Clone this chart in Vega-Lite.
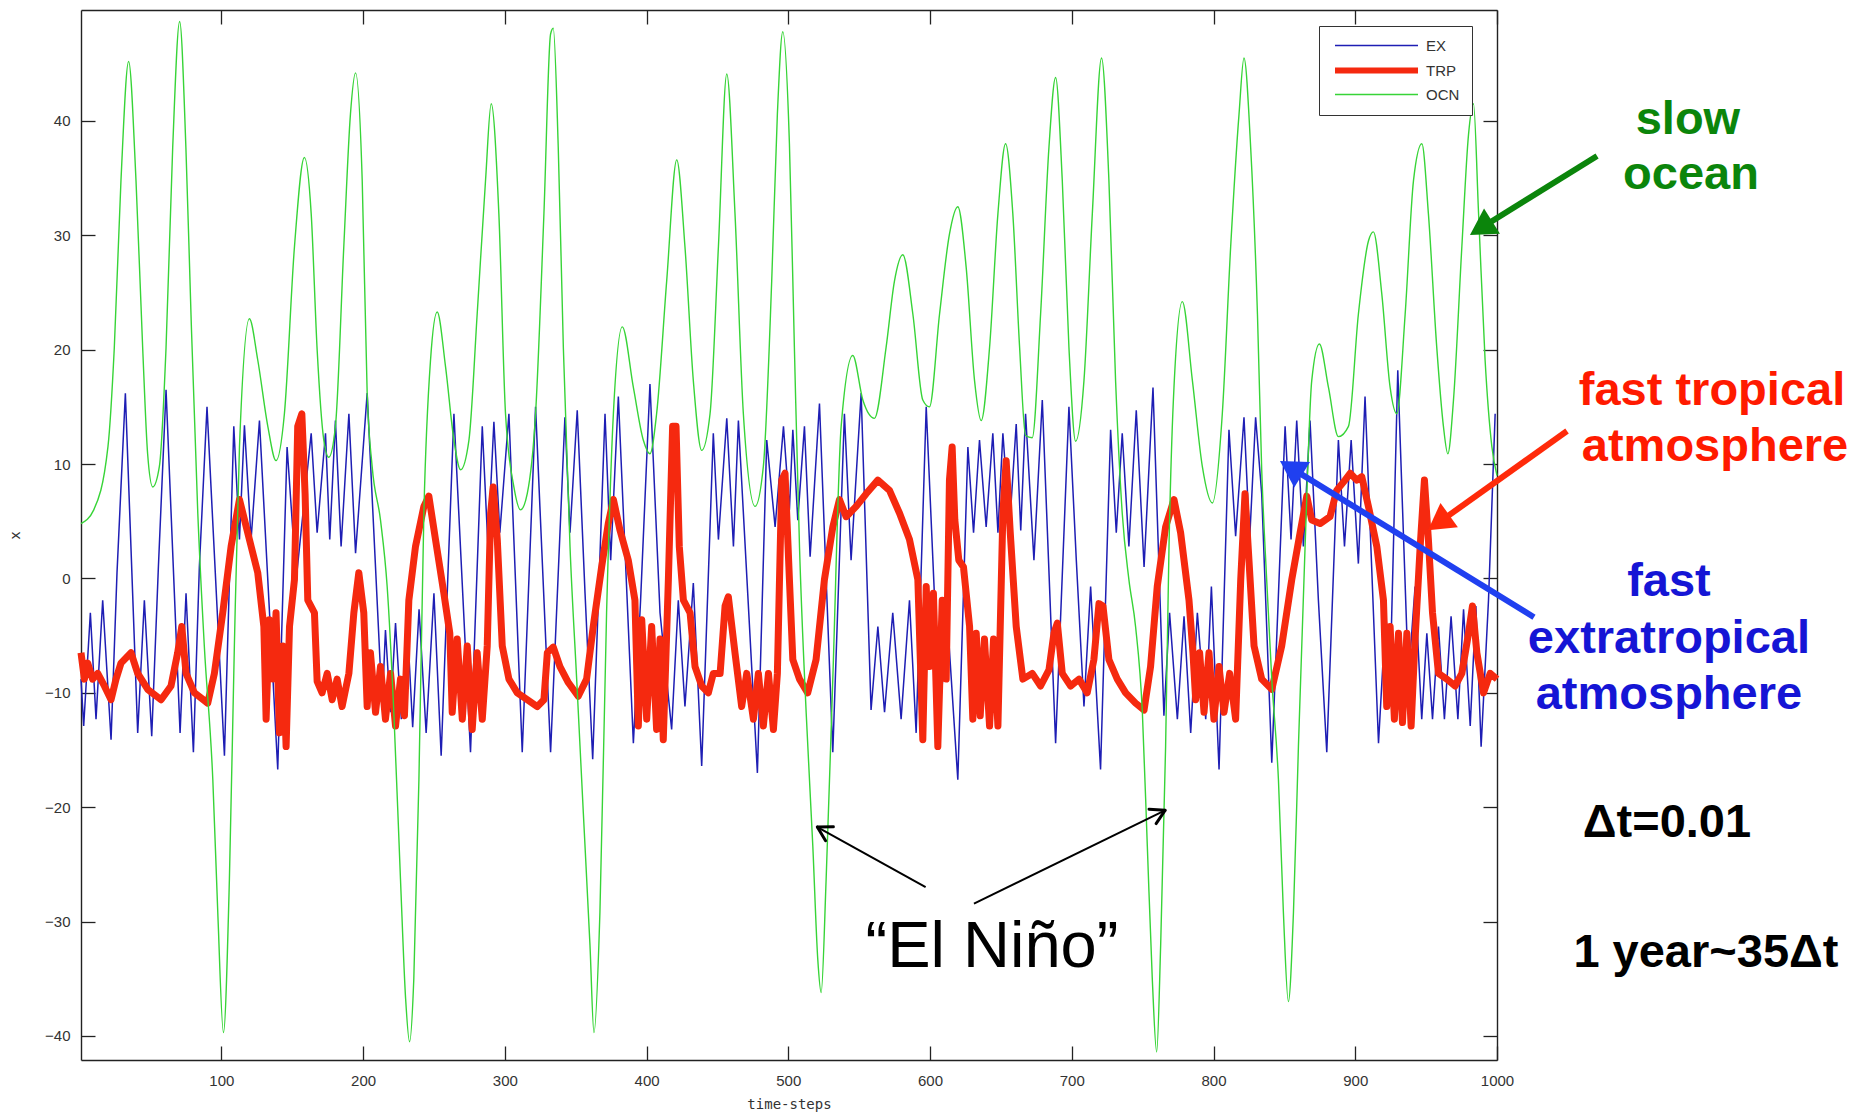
{
"$schema": "https://vega.github.io/schema/vega-lite/v6.json",
"width": 1416, "height": 1050,
"autosize": {"type": "none"},
"padding": {"left": 81, "top": 10, "right": 370, "bottom": 56},
"background": "white",
"config": {"view": {"stroke": null}, "font": "Liberation Sans"},
"datasets": {
"ocn": [{"t":1,"v":4.8},{"t":10,"v":6.0},{"t":20,"v":11.5},{"t":24.5,"v":20.2},{"t":29.2,"v":34.8},{"t":34.6,"v":45.2},{"t":39.8,"v":34.8},{"t":44.5,"v":20.2},{"t":48,"v":10.9},{"t":51.6,"v":8.0},{"t":56.3,"v":9.8},{"t":61,"v":20.2},{"t":65.7,"v":37.7},{"t":70.6,"v":48.7},{"t":75,"v":37.7},{"t":78.6,"v":23.1},{"t":83.4,"v":5.7},{"t":88,"v":-5.9},{"t":94,"v":-17.6},{"t":97.5,"v":-29.2},{"t":101.5,"v":-39.7},{"t":105.7,"v":-26.3},{"t":109.2,"v":-5.9},{"t":112.8,"v":11.5},{"t":119.8,"v":22.7},{"t":125.7,"v":19.1},{"t":132.8,"v":13.3},{"t":138.6,"v":10.3},{"t":144.5,"v":14.4},{"t":151.6,"v":29.0},{"t":158.6,"v":36.8},{"t":163.4,"v":31.9},{"t":167.6,"v":20.0},{"t":172.3,"v":12.1},{"t":175.8,"v":10.6},{"t":180.5,"v":13.3},{"t":186.4,"v":29.0},{"t":191.1,"v":40.6},{"t":194.7,"v":44.2},{"t":199.4,"v":34.8},{"t":202.9,"v":16.2},{"t":206.4,"v":9.8},{"t":212.3,"v":5.1},{"t":217,"v":-0.7},{"t":221.7,"v":-11.7},{"t":226.4,"v":-26.3},{"t":230,"v":-36.7},{"t":232.8,"v":-40.5},{"t":235.8,"v":-35.0},{"t":239.4,"v":-17.6},{"t":242.9,"v":5.7},{"t":247.6,"v":19.1},{"t":252.3,"v":23.3},{"t":258.2,"v":18.5},{"t":264.1,"v":12.1},{"t":268.8,"v":9.5},{"t":274.7,"v":12.1},{"t":280.5,"v":23.1},{"t":286.4,"v":34.8},{"t":290.4,"v":41.5},{"t":295.8,"v":31.9},{"t":300.5,"v":14.4},{"t":306.4,"v":8.0},{"t":311.1,"v":6.0},{"t":315.8,"v":7.4},{"t":321.7,"v":14.4},{"t":327.6,"v":31.9},{"t":332.3,"v":47.6},{"t":334.2,"v":48.1},{"t":337.7,"v":37.7},{"t":341.3,"v":20.2},{"t":346,"v":2.8},{"t":350.7,"v":-8.8},{"t":355.4,"v":-20.5},{"t":360.1,"v":-32.1},{"t":362.9,"v":-39.7},{"t":367.1,"v":-29.2},{"t":371.8,"v":-3.0},{"t":376.6,"v":14.4},{"t":382.9,"v":22.0},{"t":390.7,"v":16.7},{"t":397.7,"v":12.1},{"t":402.4,"v":10.9},{"t":407.1,"v":14.4},{"t":414.2,"v":26.0},{"t":421.3,"v":36.6},{"t":427.1,"v":29.0},{"t":433,"v":17.3},{"t":438.9,"v":11.2},{"t":444.8,"v":14.4},{"t":450.7,"v":29.0},{"t":456.6,"v":44.1},{"t":462.4,"v":31.9},{"t":468.3,"v":14.4},{"t":476.6,"v":6.3},{"t":482.4,"v":9.8},{"t":488.3,"v":26.0},{"t":492.3,"v":40.6},{"t":496.1,"v":47.8},{"t":500.8,"v":38.0},{"t":504.3,"v":20.2},{"t":507.9,"v":2.8},{"t":512.6,"v":-11.7},{"t":517.3,"v":-23.4},{"t":520.8,"v":-33.3},{"t":523.2,"v":-36.2},{"t":526.7,"v":-26.3},{"t":531.4,"v":-8.8},{"t":537.3,"v":13.3},{"t":545.5,"v":19.5},{"t":552.6,"v":15.6},{"t":560.8,"v":14.0},{"t":569,"v":20.2},{"t":574.9,"v":26.0},{"t":580.8,"v":28.3},{"t":587.9,"v":23.1},{"t":594.9,"v":15.6},{"t":599.6,"v":15.0},{"t":606.7,"v":23.1},{"t":613.7,"v":30.1},{"t":619.6,"v":32.5},{"t":625.5,"v":27.2},{"t":631.4,"v":17.3},{"t":636.1,"v":13.8},{"t":642,"v":20.2},{"t":647.9,"v":31.9},{"t":653.3,"v":38.0},{"t":658.4,"v":31.9},{"t":663.2,"v":20.2},{"t":667.4,"v":12.5},{"t":672.1,"v":12.3},{"t":678,"v":23.1},{"t":683.9,"v":37.7},{"t":688.6,"v":43.8},{"t":693.3,"v":34.8},{"t":698,"v":20.2},{"t":702.7,"v":12.0},{"t":708.6,"v":17.3},{"t":714.5,"v":31.9},{"t":721,"v":45.5},{"t":726.2,"v":34.8},{"t":730.9,"v":17.3},{"t":735.6,"v":5.7},{"t":740.3,"v":-0.1},{"t":745,"v":-4.2},{"t":749.8,"v":-11.7},{"t":753.3,"v":-23.4},{"t":756.8,"v":-35.0},{"t":759.9,"v":-41.4},{"t":762.7,"v":-32.1},{"t":766.2,"v":-14.7},{"t":768.6,"v":2.8},{"t":772.1,"v":16.7},{"t":778,"v":24.2},{"t":785.1,"v":17.3},{"t":792.1,"v":9.8},{"t":799.2,"v":6.6},{"t":806.2,"v":14.4},{"t":812.1,"v":29.0},{"t":818,"v":40.6},{"t":821.5,"v":45.5},{"t":826.2,"v":37.7},{"t":831,"v":23.1},{"t":834,"v":9.5},{"t":837.5,"v":-0.1},{"t":841.1,"v":-8.8},{"t":845.8,"v":-17.6},{"t":849.3,"v":-29.2},{"t":852.8,"v":-37.0},{"t":856.4,"v":-29.2},{"t":859.9,"v":-14.7},{"t":864.6,"v":2.8},{"t":869.3,"v":17.3},{"t":874.7,"v":20.5},{"t":881.1,"v":16.7},{"t":888.1,"v":12.4},{"t":895.2,"v":13.3},{"t":902.2,"v":23.1},{"t":909.3,"v":29.5},{"t":912.8,"v":30.3},{"t":918.7,"v":24.9},{"t":924.6,"v":16.7},{"t":929.3,"v":14.4},{"t":935.2,"v":23.1},{"t":941.1,"v":34.8},{"t":947,"v":38.0},{"t":951.6,"v":31.9},{"t":957.5,"v":20.2},{"t":962.2,"v":13.3},{"t":965.3,"v":10.9},{"t":969.3,"v":15.6},{"t":975.2,"v":29.0},{"t":979.9,"v":38.8},{"t":983.4,"v":41.5},{"t":987,"v":31.9},{"t":991.6,"v":19.1},{"t":996.4,"v":11.5},{"t":1000,"v":9.0}],
"ex": [{"t":1,"v":-8.8},{"t":2.9,"v":-12.9},{"t":7.6,"v":-3.0},{"t":11.6,"v":-12.3},{"t":16.3,"v":-1.9},{"t":22.2,"v":-14.1},{"t":26.4,"v":0.5},{"t":32.3,"v":16.2},{"t":41,"v":-13.5},{"t":45.7,"v":-1.9},{"t":50.9,"v":-13.8},{"t":55.6,"v":1.0},{"t":61,"v":16.5},{"t":70.9,"v":-13.5},{"t":75.1,"v":-1.3},{"t":80.3,"v":-15.2},{"t":84.5,"v":1.0},{"t":89.9,"v":15.0},{"t":102.2,"v":-15.5},{"t":108.8,"v":13.3},{"t":112.8,"v":3.4},{"t":116.3,"v":13.4},{"t":121,"v":3.4},{"t":126.9,"v":13.8},{"t":139.8,"v":-16.7},{"t":146.4,"v":11.5},{"t":152.8,"v":-0.1},{"t":163.4,"v":12.7},{"t":167.6,"v":4.0},{"t":173.5,"v":12.7},{"t":176.5,"v":3.4},{"t":180.5,"v":13.8},{"t":184.5,"v":2.8},{"t":190,"v":14.4},{"t":194.7,"v":2.2},{"t":202.9,"v":16.2},{"t":213.5,"v":-11.2},{"t":215.8,"v":-4.5},{"t":219.4,"v":-11.7},{"t":222.9,"v":-3.9},{"t":227,"v":-12.3},{"t":231,"v":-3.5},{"t":235,"v":-13.0},{"t":239.5,"v":-2.7},{"t":244.5,"v":-13.5},{"t":250,"v":-1.3},{"t":255.1,"v":-15.5},{"t":264.1,"v":14.4},{"t":275.8,"v":-15.2},{"t":284.1,"v":13.3},{"t":288.1,"v":2.8},{"t":292.3,"v":13.7},{"t":296.5,"v":4.0},{"t":302.9,"v":14.4},{"t":312.3,"v":-15.2},{"t":321.7,"v":15.0},{"t":332.3,"v":-15.2},{"t":342.4,"v":14.1},{"t":346,"v":4.0},{"t":351.1,"v":14.7},{"t":356.6,"v":-1.3},{"t":362,"v":-15.8},{"t":370.7,"v":14.4},{"t":374.7,"v":1.6},{"t":380.1,"v":15.9},{"t":390.7,"v":-14.4},{"t":395.8,"v":-1.9},{"t":402.4,"v":17.0},{"t":409.5,"v":-3.0},{"t":417.7,"v":-13.2},{"t":422.4,"v":-1.9},{"t":427.1,"v":-11.2},{"t":433,"v":-0.4},{"t":438.9,"v":-16.4},{"t":447.1,"v":12.7},{"t":450.7,"v":3.4},{"t":456.6,"v":14.0},{"t":461.3,"v":2.8},{"t":464.8,"v":13.8},{"t":478.2,"v":-17.0},{"t":484.8,"v":12.1},{"t":490.7,"v":4.5},{"t":496.6,"v":13.3},{"t":500.8,"v":6.0},{"t":503.2,"v":13.0},{"t":506.7,"v":5.1},{"t":511.4,"v":13.3},{"t":515.4,"v":1.9},{"t":522,"v":15.3},{"t":531.4,"v":-15.2},{"t":539.6,"v":14.4},{"t":544.3,"v":1.6},{"t":551.4,"v":16.2},{"t":558.4,"v":-11.5},{"t":563.2,"v":-4.2},{"t":567.9,"v":-11.7},{"t":573.7,"v":-3.0},{"t":579.6,"v":-12.3},{"t":585.5,"v":-1.9},{"t":590.2,"v":-13.5},{"t":597.3,"v":15.0},{"t":606.7,"v":-11.7},{"t":612.6,"v":-4.2},{"t":619.6,"v":-17.6},{"t":626.7,"v":11.5},{"t":630.7,"v":4.0},{"t":634.9,"v":12.1},{"t":639.6,"v":4.5},{"t":644.3,"v":12.7},{"t":647.9,"v":4.0},{"t":651.4,"v":12.7},{"t":656.1,"v":4.5},{"t":660.8,"v":13.5},{"t":664,"v":4.2},{"t":667.4,"v":14.4},{"t":673.3,"v":1.6},{"t":679.2,"v":15.6},{"t":688.6,"v":-14.4},{"t":698,"v":15.0},{"t":703.2,"v":1.6},{"t":708.6,"v":-11.2},{"t":713.3,"v":-0.7},{"t":720.3,"v":-16.7},{"t":727.4,"v":13.0},{"t":731.4,"v":4.0},{"t":735.6,"v":12.7},{"t":740.3,"v":2.8},{"t":745.5,"v":14.7},{"t":751,"v":1.0},{"t":757.3,"v":16.7},{"t":765,"v":-12.0},{"t":769,"v":-3.0},{"t":774.5,"v":-12.3},{"t":779.2,"v":-3.3},{"t":783.9,"v":-13.5},{"t":788.6,"v":-3.0},{"t":794.5,"v":-12.3},{"t":798.5,"v":-0.7},{"t":803.9,"v":-16.7},{"t":810.9,"v":13.0},{"t":815.6,"v":3.7},{"t":821.5,"v":14.1},{"t":825.5,"v":3.4},{"t":829.7,"v":14.1},{"t":834,"v":7.4},{"t":841.1,"v":-16.1},{"t":850.5,"v":13.3},{"t":854.7,"v":3.4},{"t":858.7,"v":13.8},{"t":863.4,"v":2.8},{"t":868.1,"v":13.8},{"t":874,"v":-1.9},{"t":879.9,"v":-15.2},{"t":888.1,"v":12.1},{"t":892.4,"v":2.8},{"t":897.1,"v":12.1},{"t":902.2,"v":1.3},{"t":906.9,"v":15.9},{"t":916.4,"v":-14.4},{"t":921.5,"v":-3.0},{"t":924.6,"v":-8.8},{"t":930,"v":18.2},{"t":937.5,"v":-8.8},{"t":942.2,"v":-0.7},{"t":946.9,"v":-12.3},{"t":950.5,"v":-4.8},{"t":954.5,"v":-12.3},{"t":958.7,"v":-4.2},{"t":962.9,"v":-12.3},{"t":967.6,"v":-3.3},{"t":972.4,"v":-12.3},{"t":976.4,"v":-2.7},{"t":981.1,"v":-12.9},{"t":985.1,"v":-2.4},{"t":988.8,"v":-14.7},{"t":994,"v":-1.9},{"t":998.7,"v":14.4}],
"trp": [{"t":1,"v":-6.5},{"t":3.4,"v":-8.8},{"t":5.7,"v":-7.4},{"t":9.2,"v":-8.8},{"t":12.8,"v":-8.3},{"t":17.5,"v":-9.4},{"t":22.2,"v":-10.6},{"t":25.7,"v":-8.8},{"t":29.2,"v":-7.4},{"t":36.3,"v":-6.5},{"t":41,"v":-8.3},{"t":48.1,"v":-9.7},{"t":57.5,"v":-10.6},{"t":64.5,"v":-9.4},{"t":69.2,"v":-6.5},{"t":72.1,"v":-4.2},{"t":75.1,"v":-8.3},{"t":81,"v":-10.0},{"t":90.4,"v":-10.9},{"t":95.1,"v":-8.3},{"t":101,"v":-3.0},{"t":106.9,"v":2.8},{"t":112.8,"v":6.9},{"t":118.6,"v":4.0},{"t":125.7,"v":0.5},{"t":130,"v":-4.2},{"t":131.6,"v":-12.3},{"t":133.9,"v":-3.6},{"t":136.3,"v":-8.8},{"t":138.6,"v":-3.0},{"t":141,"v":-13.5},{"t":143.4,"v":-5.9},{"t":145.7,"v":-14.7},{"t":148.1,"v":-4.2},{"t":151.6,"v":-0.1},{"t":153.9,"v":13.3},{"t":156.8,"v":14.4},{"t":159.1,"v":7.4},{"t":161,"v":-1.9},{"t":165.7,"v":-3.0},{"t":167.6,"v":-9.0},{"t":171.1,"v":-10.0},{"t":174.7,"v":-8.3},{"t":178.2,"v":-10.6},{"t":181.7,"v":-8.8},{"t":185.2,"v":-11.2},{"t":190,"v":-8.3},{"t":193.5,"v":-3.0},{"t":197,"v":0.5},{"t":200.5,"v":-3.0},{"t":202.9,"v":-11.2},{"t":205.2,"v":-6.5},{"t":208.8,"v":-11.7},{"t":212.3,"v":-7.7},{"t":215.8,"v":-12.3},{"t":219.4,"v":-8.3},{"t":222.9,"v":-12.9},{"t":226.4,"v":-8.8},{"t":229.2,"v":-12.0},{"t":232.3,"v":-1.9},{"t":237,"v":2.8},{"t":242.9,"v":6.3},{"t":246.4,"v":7.2},{"t":251.1,"v":3.4},{"t":257,"v":-1.3},{"t":261.2,"v":-4.8},{"t":262.9,"v":-11.7},{"t":266.4,"v":-5.3},{"t":270,"v":-12.3},{"t":273.5,"v":-5.9},{"t":277,"v":-13.2},{"t":280.5,"v":-6.5},{"t":284.1,"v":-12.3},{"t":287.6,"v":-5.9},{"t":290,"v":5.7},{"t":291.8,"v":8.0},{"t":294.7,"v":3.4},{"t":298.2,"v":-5.9},{"t":302.9,"v":-8.8},{"t":308.8,"v":-10.0},{"t":315.8,"v":-10.6},{"t":322.9,"v":-11.2},{"t":327.6,"v":-10.6},{"t":330,"v":-6.5},{"t":334.2,"v":-6.0},{"t":338.9,"v":-7.7},{"t":344.8,"v":-9.1},{"t":351.8,"v":-10.3},{"t":357.7,"v":-8.8},{"t":362.4,"v":-4.2},{"t":368.3,"v":1.0},{"t":373,"v":4.8},{"t":376.6,"v":6.9},{"t":381.3,"v":4.2},{"t":387.1,"v":1.6},{"t":391.8,"v":-1.9},{"t":394.2,"v":-12.9},{"t":396.6,"v":-3.6},{"t":400.1,"v":-12.3},{"t":403.6,"v":-4.2},{"t":407.1,"v":-13.2},{"t":409.5,"v":-5.3},{"t":411.8,"v":-14.1},{"t":415.4,"v":-0.1},{"t":418.4,"v":13.3},{"t":420.8,"v":13.3},{"t":423.1,"v":2.8},{"t":426,"v":-1.9},{"t":430.7,"v":-3.0},{"t":434.2,"v":-7.7},{"t":438.9,"v":-9.4},{"t":443.6,"v":-10.0},{"t":447.1,"v":-8.3},{"t":451.9,"v":-8.3},{"t":455.4,"v":-2.4},{"t":457.7,"v":-1.6},{"t":462.4,"v":-6.5},{"t":467.1,"v":-11.2},{"t":470.7,"v":-8.3},{"t":475.4,"v":-12.3},{"t":478.9,"v":-8.3},{"t":482.4,"v":-12.9},{"t":486,"v":-8.3},{"t":489.5,"v":-13.2},{"t":492.3,"v":-8.3},{"t":495.4,"v":8.6},{"t":497.7,"v":9.2},{"t":500.8,"v":-0.1},{"t":503.2,"v":-7.1},{"t":507.9,"v":-8.8},{"t":513.7,"v":-10.0},{"t":519.6,"v":-7.1},{"t":525.5,"v":-0.1},{"t":531.4,"v":4.5},{"t":536.1,"v":6.9},{"t":540.8,"v":5.4},{"t":547.9,"v":6.3},{"t":554.9,"v":7.4},{"t":563.2,"v":8.6},{"t":571.4,"v":7.7},{"t":578.5,"v":5.7},{"t":585.5,"v":3.4},{"t":591.4,"v":-0.1},{"t":594.9,"v":-14.1},{"t":597.3,"v":-0.7},{"t":599.6,"v":-7.7},{"t":602.4,"v":-1.3},{"t":605.5,"v":-14.7},{"t":608.6,"v":-1.9},{"t":611.4,"v":-8.8},{"t":613.7,"v":8.6},{"t":615.6,"v":11.5},{"t":617.5,"v":5.1},{"t":620.3,"v":1.6},{"t":623.6,"v":1.0},{"t":627.9,"v":-4.2},{"t":630.2,"v":-12.3},{"t":632.6,"v":-4.8},{"t":635.4,"v":-12.0},{"t":638.4,"v":-5.3},{"t":642,"v":-12.9},{"t":644.8,"v":-5.3},{"t":647.9,"v":-12.9},{"t":651.4,"v":5.7},{"t":653.7,"v":10.3},{"t":656.6,"v":4.0},{"t":660.8,"v":-4.2},{"t":665.5,"v":-8.8},{"t":672.1,"v":-8.3},{"t":678,"v":-9.4},{"t":683.9,"v":-8.0},{"t":687.4,"v":-4.8},{"t":689.8,"v":-3.9},{"t":693.3,"v":-8.3},{"t":699.2,"v":-9.4},{"t":705.1,"v":-8.8},{"t":710.9,"v":-10.0},{"t":715.6,"v":-7.1},{"t":719.2,"v":-2.2},{"t":722,"v":-2.4},{"t":726.2,"v":-7.1},{"t":732.1,"v":-8.8},{"t":738,"v":-10.0},{"t":745,"v":-10.9},{"t":751,"v":-11.5},{"t":755.6,"v":-7.7},{"t":760.3,"v":-0.7},{"t":766.2,"v":4.5},{"t":772.1,"v":6.9},{"t":776.8,"v":4.0},{"t":782.7,"v":-1.9},{"t":785.5,"v":-6.5},{"t":787.4,"v":-10.6},{"t":790.2,"v":-6.5},{"t":793.3,"v":-11.7},{"t":796.8,"v":-6.5},{"t":800.3,"v":-12.3},{"t":803.9,"v":-7.7},{"t":807.4,"v":-11.7},{"t":811.4,"v":-8.3},{"t":815.6,"v":-12.3},{"t":819.2,"v":-0.1},{"t":822.2,"v":7.4},{"t":825,"v":1.6},{"t":828.6,"v":-5.9},{"t":834,"v":-8.8},{"t":841.1,"v":-9.7},{"t":848.1,"v":-5.9},{"t":855.2,"v":-0.1},{"t":861.1,"v":4.0},{"t":865.8,"v":7.2},{"t":869.3,"v":5.1},{"t":875.2,"v":4.8},{"t":882.2,"v":5.4},{"t":886.9,"v":7.7},{"t":892.8,"v":8.6},{"t":896.4,"v":9.2},{"t":901.1,"v":8.6},{"t":904.6,"v":8.9},{"t":909.3,"v":6.3},{"t":915.2,"v":2.8},{"t":919.9,"v":-1.9},{"t":922.2,"v":-11.2},{"t":924.6,"v":-4.2},{"t":927.6,"v":-12.3},{"t":930.5,"v":-4.8},{"t":933.3,"v":-12.6},{"t":936.4,"v":-4.8},{"t":939.4,"v":-12.9},{"t":942.2,"v":-5.3},{"t":945.8,"v":2.8},{"t":948.8,"v":8.6},{"t":951.6,"v":3.4},{"t":954.5,"v":-3.0},{"t":958.7,"v":-8.3},{"t":964.6,"v":-8.8},{"t":970.5,"v":-9.4},{"t":975.2,"v":-8.3},{"t":979.9,"v":-4.8},{"t":982.7,"v":-2.4},{"t":985.8,"v":-6.5},{"t":990.5,"v":-10.0},{"t":995.2,"v":-8.3},{"t":1000,"v":-8.8}]
},
"layer": [
{"data": {"name": "ex"},
 "mark": {"type": "line", "strokeWidth": 1.5},
 "encoding": {
  "x": {"field": "t", "type": "quantitative", "scale": {"domain": [1, 1000], "nice": false, "zero": false},
   "axis": {"orient": "bottom", "values": [100,200,300,400,500,600,700,800,900,1000], "format": "d", "title": "time-steps", "grid": false, "tickSize": -14, "labelPadding": 27, "labelFlush": false, "labelOverlap": false, "domainColor": "#222", "tickColor": "#222", "domainWidth": 1.4, "tickWidth": 1.3, "labelFont": "Liberation Sans", "labelFontSize": 15, "labelColor": "#333", "titleFont": "DejaVu Sans Mono", "titleFontSize": 14, "titleFontWeight": "normal", "titleColor": "#333", "titlePadding": 9}},
  "y": {"field": "v", "type": "quantitative", "scale": {"domain": [-42.1, 49.7], "nice": false, "zero": false},
   "axis": {"orient": "left", "values": [-40,-30,-20,-10,0,10,20,30,40], "format": "d", "title": "x", "grid": false, "tickSize": -14, "labelPadding": 25, "labelFlush": false, "labelOverlap": false, "domainColor": "#222", "tickColor": "#222", "domainWidth": 1.4, "tickWidth": 1.3, "labelFont": "Liberation Sans", "labelFontSize": 15, "labelColor": "#333", "titleFont": "DejaVu Sans Mono", "titleFontSize": 14, "titleFontWeight": "normal", "titleColor": "#333", "titlePadding": 22}},
  "color": {"datum": "EX", "type": "nominal",
   "scale": {"domain": ["EX", "TRP", "OCN"], "range": ["#1e1eb4", "#f5290f", "#37d437"]},
   "legend": {"orient": "none", "legendX": 1238, "legendY": 16, "title": null, "symbolType": "stroke", "symbolSize": 6889, "symbolStrokeWidth": 1.3, "symbolOffset": 38, "labelFont": "Liberation Sans", "labelFontSize": 15, "labelColor": "#333", "labelOffset": 42, "padding": 12, "rowPadding": 4, "strokeColor": "#333", "fillColor": "white",
    "encode": {"symbols": {"update": {"strokeWidth": {"signal": "datum.value === 'TRP' ? 6 : 1.3"}}}}}}
 }},
{"data": {"name": "trp"},
 "mark": {"type": "line", "strokeWidth": 7, "strokeJoin": "round"},
 "encoding": {
  "x": {"field": "t", "type": "quantitative", "scale": {"domain": [1, 1000], "nice": false, "zero": false},
   "axis": {"orient": "top", "values": [100,200,300,400,500,600,700,800,900,1000], "title": null, "labels": false, "grid": false, "tickSize": -14, "domainColor": "#222", "tickColor": "#222", "domainWidth": 1.4, "tickWidth": 1.3}},
  "y": {"field": "v", "type": "quantitative", "scale": {"domain": [-42.1, 49.7], "nice": false, "zero": false},
   "axis": {"orient": "right", "values": [-40,-30,-20,-10,0,10,20,30,40], "title": null, "labels": false, "grid": false, "tickSize": -14, "domainColor": "#222", "tickColor": "#222", "domainWidth": 1.4, "tickWidth": 1.3}},
  "color": {"datum": "TRP", "type": "nominal"}
 }},
{"data": {"name": "ocn"},
 "mark": {"type": "line", "strokeWidth": 1.4, "interpolate": "monotone"},
 "encoding": {
  "x": {"field": "t", "type": "quantitative", "scale": {"domain": [1, 1000], "nice": false, "zero": false}, "axis": null},
  "y": {"field": "v", "type": "quantitative", "scale": {"domain": [-42.1, 49.7], "nice": false, "zero": false}, "axis": null},
  "color": {"datum": "OCN", "type": "nominal"}
 }},
{"mark": {"type": "rule", "strokeDash": [10, 7], "color": "#7a7a7a", "strokeWidth": 1.6},
 "encoding": {"y": {"datum": 0, "type": "quantitative", "scale": {"domain": [-42.1, 49.7], "nice": false, "zero": false}, "axis": null}}},
{"data": {"values": [{"t": 1070.6, "v": 36.94, "t2": 988.7, "v2": 30.64}]},
 "mark": {"type": "rule", "color": "#0b850b", "strokeWidth": 6},
 "encoding": {
  "x": {"field": "t", "type": "quantitative", "scale": {"domain": [1, 1000], "nice": false, "zero": false}, "axis": null},
  "y": {"field": "v", "type": "quantitative", "scale": {"domain": [-42.1, 49.7], "nice": false, "zero": false}, "axis": null},
  "x2": {"field": "t2"}, "y2": {"field": "v2"}}},
{"data": {"values": [{"t": 988.7, "v": 30.64}]},
 "mark": {"type": "point", "shape": "triangle-up", "filled": true, "size": 900, "angle": 238, "color": "#0b850b", "opacity": 1},
 "encoding": {
  "x": {"field": "t", "type": "quantitative", "scale": {"domain": [1, 1000], "nice": false, "zero": false}, "axis": null},
  "y": {"field": "v", "type": "quantitative", "scale": {"domain": [-42.1, 49.7], "nice": false, "zero": false}, "axis": null}}},
{"data": {"values": [{"t": 1049.4, "v": 12.89, "t2": 958.8, "v2": 4.88}]},
 "mark": {"type": "rule", "color": "#ff2a0a", "strokeWidth": 6},
 "encoding": {
  "x": {"field": "t", "type": "quantitative", "scale": {"domain": [1, 1000], "nice": false, "zero": false}, "axis": null},
  "y": {"field": "v", "type": "quantitative", "scale": {"domain": [-42.1, 49.7], "nice": false, "zero": false}, "axis": null},
  "x2": {"field": "t2"}, "y2": {"field": "v2"}}},
{"data": {"values": [{"t": 958.8, "v": 4.88}]},
 "mark": {"type": "point", "shape": "triangle-up", "filled": true, "size": 900, "angle": 234.5, "color": "#ff2a0a", "opacity": 1},
 "encoding": {
  "x": {"field": "t", "type": "quantitative", "scale": {"domain": [1, 1000], "nice": false, "zero": false}, "axis": null},
  "y": {"field": "v", "type": "quantitative", "scale": {"domain": [-42.1, 49.7], "nice": false, "zero": false}, "axis": null}}},
{"data": {"values": [{"t": 1026.1, "v": -3.39, "t2": 854.7, "v2": 9.67}]},
 "mark": {"type": "rule", "color": "#2040f0", "strokeWidth": 6},
 "encoding": {
  "x": {"field": "t", "type": "quantitative", "scale": {"domain": [1, 1000], "nice": false, "zero": false}, "axis": null},
  "y": {"field": "v", "type": "quantitative", "scale": {"domain": [-42.1, 49.7], "nice": false, "zero": false}, "axis": null},
  "x2": {"field": "t2"}, "y2": {"field": "v2"}}},
{"data": {"values": [{"t": 854.7, "v": 9.67}]},
 "mark": {"type": "point", "shape": "triangle-up", "filled": true, "size": 900, "angle": 301.6, "color": "#2040f0", "opacity": 1},
 "encoding": {
  "x": {"field": "t", "type": "quantitative", "scale": {"domain": [1, 1000], "nice": false, "zero": false}, "axis": null},
  "y": {"field": "v", "type": "quantitative", "scale": {"domain": [-42.1, 49.7], "nice": false, "zero": false}, "axis": null}}},
{"data": {"values": [{"t": 596.9, "v": -26.98, "t2": 520.5, "v2": -21.73}, {"t": 631.0, "v": -28.43, "t2": 765.8, "v2": -20.27}]},
 "mark": {"type": "rule", "color": "black", "strokeWidth": 2},
 "encoding": {
  "x": {"field": "t", "type": "quantitative", "scale": {"domain": [1, 1000], "nice": false, "zero": false}, "axis": null},
  "y": {"field": "v", "type": "quantitative", "scale": {"domain": [-42.1, 49.7], "nice": false, "zero": false}, "axis": null},
  "x2": {"field": "t2"}, "y2": {"field": "v2"}}},
{"data": {"values": [{"t": 520.5, "v": -21.73, "t2": 526.3, "v2": -22.93}, {"t": 520.5, "v": -21.73, "t2": 531.8, "v2": -21.7}, {"t": 765.8, "v": -20.27, "t2": 754.5, "v2": -20.17}, {"t": 765.8, "v": -20.27, "t2": 759.5, "v2": -21.43}]},
 "mark": {"type": "rule", "color": "black", "strokeWidth": 3, "strokeCap": "round"},
 "encoding": {
  "x": {"field": "t", "type": "quantitative", "scale": {"domain": [1, 1000], "nice": false, "zero": false}, "axis": null},
  "y": {"field": "v", "type": "quantitative", "scale": {"domain": [-42.1, 49.7], "nice": false, "zero": false}, "axis": null},
  "x2": {"field": "t2"}, "y2": {"field": "v2"}}},
{"data": {"values": [{"t": 1134.7, "v": 40.09, "txt": "slow"}, {"t": 1136.9, "v": 35.28, "txt": "ocean"}]},
 "mark": {"type": "text", "font": "Liberation Sans", "fontWeight": "bold", "fontSize": 47, "align": "center", "baseline": "middle", "color": "#0b850b"},
 "encoding": {
  "x": {"field": "t", "type": "quantitative", "scale": {"domain": [1, 1000], "nice": false, "zero": false}, "axis": null},
  "y": {"field": "v", "type": "quantitative", "scale": {"domain": [-42.1, 49.7], "nice": false, "zero": false}, "axis": null},
  "text": {"field": "txt"}}},
{"data": {"values": [{"t": 1151.7, "v": 16.39, "txt": "fast tropical"}, {"t": 1153.8, "v": 11.49, "txt": "atmosphere"}]},
 "mark": {"type": "text", "font": "Liberation Sans", "fontWeight": "bold", "fontSize": 47, "align": "center", "baseline": "middle", "color": "#ff1a00"},
 "encoding": {
  "x": {"field": "t", "type": "quantitative", "scale": {"domain": [1, 1000], "nice": false, "zero": false}, "axis": null},
  "y": {"field": "v", "type": "quantitative", "scale": {"domain": [-42.1, 49.7], "nice": false, "zero": false}, "axis": null},
  "text": {"field": "txt"}}},
{"data": {"values": [{"t": 1121.3, "v": -0.32, "txt": "fast"}, {"t": 1121.3, "v": -5.31, "txt": "extratropical"}, {"t": 1121.3, "v": -10.21, "txt": "atmosphere"}]},
 "mark": {"type": "text", "font": "Liberation Sans", "fontWeight": "bold", "fontSize": 47, "align": "center", "baseline": "middle", "color": "#1515d5"},
 "encoding": {
  "x": {"field": "t", "type": "quantitative", "scale": {"domain": [1, 1000], "nice": false, "zero": false}, "axis": null},
  "y": {"field": "v", "type": "quantitative", "scale": {"domain": [-42.1, 49.7], "nice": false, "zero": false}, "axis": null},
  "text": {"field": "txt"}}},
{"data": {"values": [{"t": 1119.9, "v": -21.41, "txt": "Δt=0.01"}, {"t": 1147.4, "v": -32.78, "txt": "1 year~35Δt"}]},
 "mark": {"type": "text", "font": "Liberation Sans", "fontWeight": "bold", "fontSize": 47, "align": "center", "baseline": "middle", "color": "black"},
 "encoding": {
  "x": {"field": "t", "type": "quantitative", "scale": {"domain": [1, 1000], "nice": false, "zero": false}, "axis": null},
  "y": {"field": "v", "type": "quantitative", "scale": {"domain": [-42.1, 49.7], "nice": false, "zero": false}, "axis": null},
  "text": {"field": "txt"}}},
{"data": {"values": [{"t": 643.7, "v": -32.25, "txt": "“El Niño”"}]},
 "mark": {"type": "text", "font": "Liberation Sans", "fontSize": 65, "align": "center", "baseline": "middle", "color": "black"},
 "encoding": {
  "x": {"field": "t", "type": "quantitative", "scale": {"domain": [1, 1000], "nice": false, "zero": false}, "axis": null},
  "y": {"field": "v", "type": "quantitative", "scale": {"domain": [-42.1, 49.7], "nice": false, "zero": false}, "axis": null},
  "text": {"field": "txt"}}}
],
"resolve": {"axis": {"x": "independent", "y": "independent"}}
}
